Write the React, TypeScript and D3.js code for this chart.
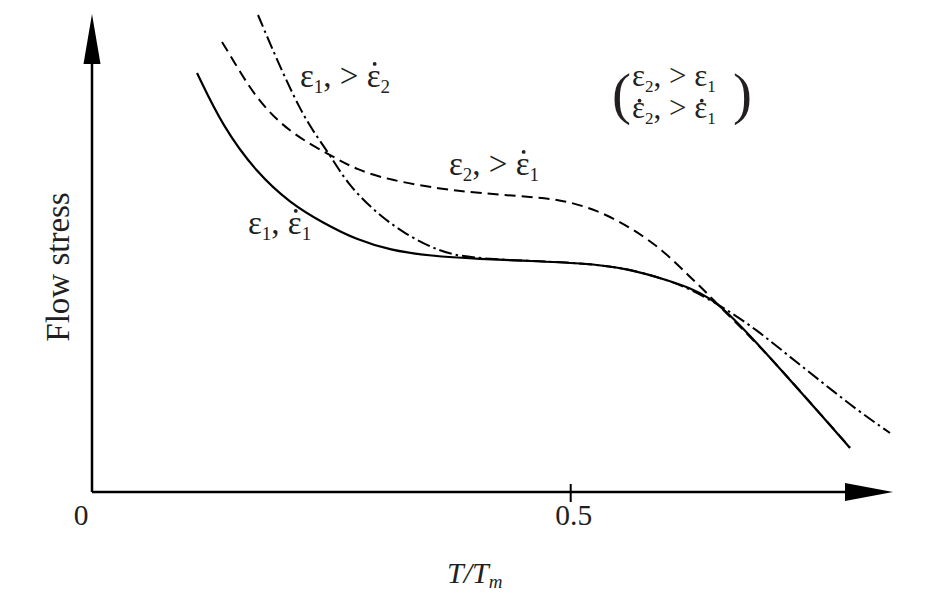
import { useLayoutEffect, useRef, useState } from "react";
import * as d3 from "d3";

// flow stress vs homologous temperature
type Pt = [number, number];

const refCurve: Pt[] = [
  [0.1097, 87.66], [0.1368, 76.36], [0.1723, 66.74], [0.2068, 60.46],
  [0.2413, 56.28], [0.2768, 52.72], [0.3113, 50.63], [0.353, 49.37],
  [0.4053, 48.74], [0.4575, 48.33], [0.5097, 47.91], [0.5588, 46.86],
  [0.6037, 44.14], [0.6246, 42.68], [0.6455, 40.59], [0.6633, 37.66],
  [0.6946, 31.17], [0.7291, 23.43], [0.7635, 15.69], [0.7917, 9.21],
];

const highStrainCurve: Pt[] = [
  [0.1358, 94.14], [0.1473, 90.38], [0.1723, 82.01], [0.2068, 75.1],
  [0.2486, 70.5], [0.2768, 67.36], [0.3113, 65.27], [0.3635, 63.39],
  [0.4053, 62.55], [0.4575, 61.72], [0.492, 61.09], [0.5275, 58.99],
  [0.5619, 55.44], [0.5964, 50.63], [0.6246, 44.98], [0.6424, 41.63],
  [0.6591, 38.08], [0.6946, 31.1], [0.7291, 23.5], [0.7635, 15.7],
  [0.7917, 9.3],
];

const highRateCurve: Pt[] = [
  [0.1734, 99.79], [0.1932, 90.38], [0.2173, 79.92], [0.235, 74.27],
  [0.2486, 70.5], [0.2663, 64.64], [0.2935, 59.0], [0.3248, 54.18],
  [0.3635, 50.21], [0.3948, 48.95], [0.4575, 48.33], [0.5097, 47.91],
  [0.5588, 46.86], [0.6037, 44.14], [0.6246, 42.47], [0.6591, 38.7],
  [0.6946, 33.89], [0.7291, 28.24], [0.7635, 22.8], [0.799, 17.15],
  [0.8335, 12.34],
];

const xTicks = [0, 0.5];
const xTickLabels = ["0", "0.5"];

const W = 933;
const H = 614;
const FONT = "'Liberation Serif', 'Times New Roman', serif";
const INK = "#231f20";

type Piece = { text: string; sub?: string; dot?: boolean };

function Formula({
  x,
  y,
  pieces,
  size = 33,
  subSize = 19,
  dotLift = 0.7,
}: {
  x: number;
  y: number;
  pieces: Piece[];
  size?: number;
  subSize?: number;
  dotLift?: number;
}) {
  const ref = useRef<SVGTextElement>(null);
  const [dots, setDots] = useState<number[]>([]);
  const subDy = 6;

  // char index of every dotted symbol inside the <text>
  const dotIdx: number[] = [];
  let n = 0;
  pieces.forEach((p) => {
    if (p.dot) dotIdx.push(n);
    n += p.text.length + (p.sub ? p.sub.length : 0);
  });

  useLayoutEffect(() => {
    const el = ref.current;
    if (!el) return;
    setDots(
      dotIdx.map((i) => {
        const b = el.getExtentOfChar(i);
        return b.x + b.width / 2 + 1;
      })
    );
  }, []);

  const spans: JSX.Element[] = [];
  let shift = 0;
  pieces.forEach((p, i) => {
    spans.push(
      <tspan key={`b${i}`} dy={-shift}>
        {p.text}
      </tspan>
    );
    shift = 0;
    if (p.sub) {
      spans.push(
        <tspan key={`s${i}`} dy={subDy} fontSize={subSize}>
          {p.sub}
        </tspan>
      );
      shift = subDy;
    }
  });
  return (
    <g>
      <text ref={ref} x={x} y={y} fontSize={size} fontFamily={FONT} fill={INK}>
        {spans}
      </text>
      {dots.map((cx, i) => (
        <circle key={i} cx={cx} cy={y - size * dotLift} r={1.9} fill={INK} />
      ))}
    </g>
  );
}

export default function App() {
  const x = d3.scaleLinear([0, 0.5], [92, 570.7]);
  const y = d3.scaleLinear([0, 100], [492, 14]);
  const tMax = x.invert(893);

  const line = d3
    .line<Pt>()
    .x((d) => x(d[0]))
    .y((d) => y(d[1]))
    .curve(d3.curveBasis);

  const x0 = x(0);
  const y0 = y(0);
  const xEnd = x(tMax);
  const yEnd = y(100);

  return (
    <svg
      width={W}
      height={H}
      viewBox={`0 0 ${W} ${H}`}
      style={{ position: "absolute", left: 0, top: 0, background: "#fff" }}
    >
      <rect width={W} height={H} fill="#fff" />

      {/* axes */}
      <line x1={x0} y1={y0} x2={xEnd - 40} y2={y0} stroke="#000" strokeWidth={2.5} />
      <line x1={x0} y1={y0} x2={x0} y2={yEnd + 40} stroke="#000" strokeWidth={2.5} />
      <polygon
        points={`${xEnd},${y0} ${xEnd - 48},${y0 - 9} ${xEnd - 48},${y0 + 9}`}
        fill="#000"
      />
      <polygon
        points={`${x0},${yEnd} ${x0 - 8.5},${yEnd + 50} ${x0 + 8.5},${yEnd + 50}`}
        fill="#000"
      />
      {xTicks.slice(1).map((t) => (
        <line
          key={t}
          x1={x(t)}
          x2={x(t)}
          y1={y0 - 8}
          y2={y0 + 10}
          stroke="#000"
          strokeWidth={2}
        />
      ))}
      {xTicks.map((t, i) => (
        <text
          key={t}
          x={x(t) + (i === 0 ? -11 : 3)}
          y={525}
          fontSize={29.5}
          fontFamily={FONT}
          fill={INK}
          textAnchor="middle"
        >
          {xTickLabels[i]}
        </text>
      ))}

      <text x={447} y={583} fontSize={30} fontFamily={FONT} fill={INK} fontStyle="italic">
        T/T
        <tspan fontSize={19} dy={5}>
          m
        </tspan>
      </text>
      <text
        transform="translate(69,267) rotate(-90)"
        fontSize={33}
        fontFamily={FONT}
        fill={INK}
        textAnchor="middle"
      >
        Flow stress
      </text>

      {/* curves */}
      <path d={line(refCurve) ?? ""} fill="none" stroke="#000" strokeWidth={2.2} />
      <path
        d={line(highStrainCurve) ?? ""}
        fill="none"
        stroke="#000"
        strokeWidth={2}
        strokeDasharray="11 6"
      />
      <path
        d={line(highRateCurve) ?? ""}
        fill="none"
        stroke="#000"
        strokeWidth={2}
        strokeDasharray="13 4 2.5 4"
      />

      {/* labels */}
      <Formula
        x={300}
        y={87}
        pieces={[{ text: "ε", sub: "1" }, { text: ", > " }, { text: "ε", dot: true, sub: "2" }]}
      />
      <Formula
        x={449}
        y={175}
        pieces={[{ text: "ε", sub: "2" }, { text: ", > " }, { text: "ε", dot: true, sub: "1" }]}
      />
      <Formula
        x={248}
        y={234}
        pieces={[{ text: "ε", sub: "1" }, { text: ", " }, { text: "ε", dot: true, sub: "1" }]}
      />
      <text x={612} y={113} fontSize={57} fontFamily={FONT} fill={INK}>
        (
      </text>
      <Formula
        x={632}
        y={86}
        size={31}
        subSize={17}
        pieces={[{ text: "ε", sub: "2" }, { text: ", > " }, { text: "ε", sub: "1" }]}
      />
      <Formula
        x={632}
        y={118}
        size={31}
        subSize={17}
        dotLift={0.56}
        pieces={[
          { text: "ε", dot: true, sub: "2" },
          { text: ", > " },
          { text: "ε", dot: true, sub: "1" },
        ]}
      />
      <text x={733} y={113} fontSize={57} fontFamily={FONT} fill={INK}>
        )
      </text>
    </svg>
  );
}
